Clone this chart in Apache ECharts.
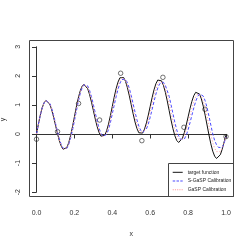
<!DOCTYPE html>
<html><head><meta charset="utf-8">
<script src="https://cdn.jsdelivr.net/npm/echarts@6/dist/echarts.min.js"></script>
<style>html,body{margin:0;padding:0;background:#fff}#c{width:249px;height:249px}</style>
</head><body><div id="c"></div>
<script>
const xGrid = [0,0.01,0.02,0.03,0.04,0.05,0.06,0.07,0.08,0.09,0.1,0.11,0.12,0.13,0.14,0.15,0.16,0.17,0.18,0.19,0.2,0.21,0.22,0.23,0.24,0.25,0.26,0.27,0.28,0.29,0.3,0.31,0.32,0.33,0.34,0.35,0.36,0.37,0.38,0.39,0.4,0.41,0.42,0.43,0.44,0.45,0.46,0.47,0.48,0.49,0.5,0.51,0.52,0.53,0.54,0.55,0.56,0.57,0.58,0.59,0.6,0.61,0.62,0.63,0.64,0.65,0.66,0.67,0.68,0.69,0.7,0.71,0.72,0.73,0.74,0.75,0.76,0.77,0.78,0.79,0.8,0.81,0.82,0.83,0.84,0.85,0.86,0.87,0.88,0.89,0.9,0.91,0.92,0.93,0.94,0.95,0.96,0.97,0.98,0.99,1.0];
const targetY = [0,0.340,0.651,0.903,1.076,1.156,1.138,1.027,0.837,0.588,0.309,0.030,-0.220,-0.412,-0.525,-0.546,-0.469,-0.300,-0.052,0.253,0.588,0.922,1.225,1.470,1.636,1.707,1.680,1.559,1.359,1.099,0.809,0.518,0.256,0.052,-0.075,-0.109,-0.046,0.109,0.342,0.632,0.951,1.269,1.557,1.785,1.933,1.988,1.943,1.805,1.586,1.309,1.0,0.691,0.410,0.187,0.041,-0.012,0.031,0.167,0.381,0.651,0.951,1.250,1.518,1.727,1.856,1.891,1.827,1.670,1.432,1.136,0.809,0.481,0.183,-0.059,-0.222,-0.293,-0.266,-0.148,0.049,0.304,0.588,0.871,1.124,1.318,1.433,1.454,1.377,1.206,0.956,0.648,0.309,-0.030,-0.339,-0.591,-0.764,-0.844,-0.826,-0.715,-0.525,-0.278,-0.03];
const sgaspY = [0,0.333,0.640,0.891,1.067,1.155,1.150,1.055,0.881,0.647,0.378,0.103,-0.151,-0.356,-0.491,-0.541,-0.497,-0.363,-0.148,0.131,0.450,0.781,1.096,1.367,1.572,1.692,1.720,1.654,1.503,1.282,1.015,0.727,0.448,0.206,0.023,-0.080,-0.093,-0.013,0.152,0.390,0.697,0.989,1.278,1.535,1.740,1.873,1.922,1.883,1.760,1.565,1.315,1.035,0.751,0.489,0.273,0.124,0.055,0.071,0.172,0.345,0.576,0.841,1.115,1.370,1.581,1.729,1.797,1.778,1.672,1.488,1.296,1.005,0.699,0.401,0.142,-0.060,-0.184,-0.224,-0.178,-0.050,0.144,0.384,0.644,0.897,1.120,1.286,1.379,1.387,1.306,1.142,0.907,0.620,0.307,0.0,-0.22,-0.37,-0.46,-0.50,-0.47,-0.32,-0.10];
const gaspY = [0,0.337,0.646,0.897,1.072,1.156,1.144,1.041,0.859,0.618,0.344,0.067,-0.186,-0.384,-0.508,-0.544,-0.483,-0.332,-0.100,0.192,0.519,0.852,1.161,1.419,1.604,1.700,1.700,1.607,1.431,1.191,0.912,0.623,0.352,0.129,-0.026,-0.095,-0.070,0.048,0.247,0.511,0.824,1.129,1.418,1.660,1.837,1.931,1.933,1.844,1.673,1.437,1.158,0.863,0.581,0.338,0.157,0.056,0.043,0.119,0.277,0.498,0.764,1.046,1.317,1.549,1.719,1.810,1.812,1.724,1.552,1.312,1.053,0.743,0.441,0.171,-0.040,-0.177,-0.225,-0.186,-0.065,0.127,0.366,0.628,0.884,1.108,1.277,1.370,1.378,1.297,1.131,0.895,0.608,0.295,-0.016,-0.296,-0.492,-0.607,-0.643,-0.608,-0.498,-0.299,-0.10];
const obsX = [0,0.111,0.222,0.333,0.444,0.556,0.667,0.778,0.889,1.0];
const obsY = [-0.18,0.08,1.05,0.48,2.09,-0.23,1.95,0.23,0.85,-0.09];
const xTicks = ['0.0','0.2','0.4','0.6','0.8','1.0'];
const yTicks = ['-2','-1','0','1','2','3'];
const seriesNames = ['target function','S-GaSP Calibration','GaSP Calibration'];
const seriesColors = ['#111111','#4a4aff','#ff9a9a'];

const zip = (a,b)=>a.map((v,i)=>[v,b[i]]);
const font = 'Liberation Sans, Arial, sans-serif';
const solidIcon = 'path://M0,0h10v1h-10z';
const dashIcon = 'path://M0,0h2.5v1h-2.5z M3.8,0h2.5v1h-2.5z M7.6,0h2.4v1h-2.4z';
const dotIcon = 'path://M0,0h1v1h-1z M2,0h1v1h-1z M4,0h1v1h-1z M6,0h1v1h-1z M8,0h1v1h-1z';
const chart = echarts.init(document.getElementById('c'), null, {renderer:'canvas'});
chart.setOption({
  animation:false,
  grid:{left:36.5, top:46.8, width:189.5, height:145.3, containLabel:false, outerBoundsMode:'none'},
  xAxis:{type:'value', min:0, max:1, interval:0.2, offset:5,
    axisLine:{show:true, lineStyle:{color:'#333', width:1}},
    axisTick:{show:true, length:4.5, lineStyle:{color:'#333'}},
    axisLabel:{fontSize:7, color:'#333', fontFamily:font, margin:12.5,
      formatter:(v)=>xTicks[Math.round(v/0.2)]},
    splitLine:{show:false},
    name:'x', nameLocation:'middle', nameGap:33, nameTextStyle:{fontSize:7, color:'#333', fontFamily:font}},
  yAxis:{type:'value', min:-2, max:3, interval:1, offset:7.5,
    axisLine:{show:true, lineStyle:{color:'#333', width:1}},
    axisTick:{show:true, length:4.5, lineStyle:{color:'#333'}},
    axisLabel:{fontSize:7, color:'#333', fontFamily:font, rotate:90, margin:7.5,
      formatter:(v)=>yTicks[Math.round(v+2)]},
    splitLine:{show:false},
    name:'y', nameLocation:'middle', nameGap:22, nameTextStyle:{fontSize:7, color:'#333', fontFamily:font}},
  legend:{orient:'vertical', left:172.7, top:169.3, padding:0, itemWidth:10, itemHeight:6, itemGap:2.7,
    data:[{name:seriesNames[0], icon:solidIcon},{name:seriesNames[1], icon:dashIcon},{name:seriesNames[2], icon:dotIcon}],
    textStyle:{fontSize:5, color:'#222', fontFamily:font, lineHeight:6}},
  graphic:[
    {type:'rect', shape:{x:29.5, y:40.5, width:204, height:156}, style:{fill:'none', stroke:'#444', lineWidth:1}, silent:true, z:100},
    {type:'rect', shape:{x:168.5, y:163.5, width:65, height:33}, style:{fill:'none', stroke:'#444', lineWidth:1}, silent:true, z:100}
  ],
  series:[
    {name:seriesNames[0], type:'line', data:zip(xGrid,targetY), symbol:'none', itemStyle:{color:seriesColors[0]},
      lineStyle:{color:seriesColors[0], width:1}},
    {name:seriesNames[1], type:'line', data:zip(xGrid,sgaspY), symbol:'none', itemStyle:{color:seriesColors[1]},
      lineStyle:{color:seriesColors[1], width:1, type:[3,2]}},
    {name:seriesNames[2], type:'line', data:zip(xGrid,gaspY), symbol:'none', itemStyle:{color:seriesColors[2]},
      lineStyle:{color:seriesColors[2], width:1, type:[1,2]}},
    {type:'scatter', data:zip(obsX,obsY), symbol:'circle', symbolSize:4.5,
      itemStyle:{color:'rgba(0,0,0,0)', borderColor:'#222', borderWidth:0.8}}
  ]
});
</script></body></html>
